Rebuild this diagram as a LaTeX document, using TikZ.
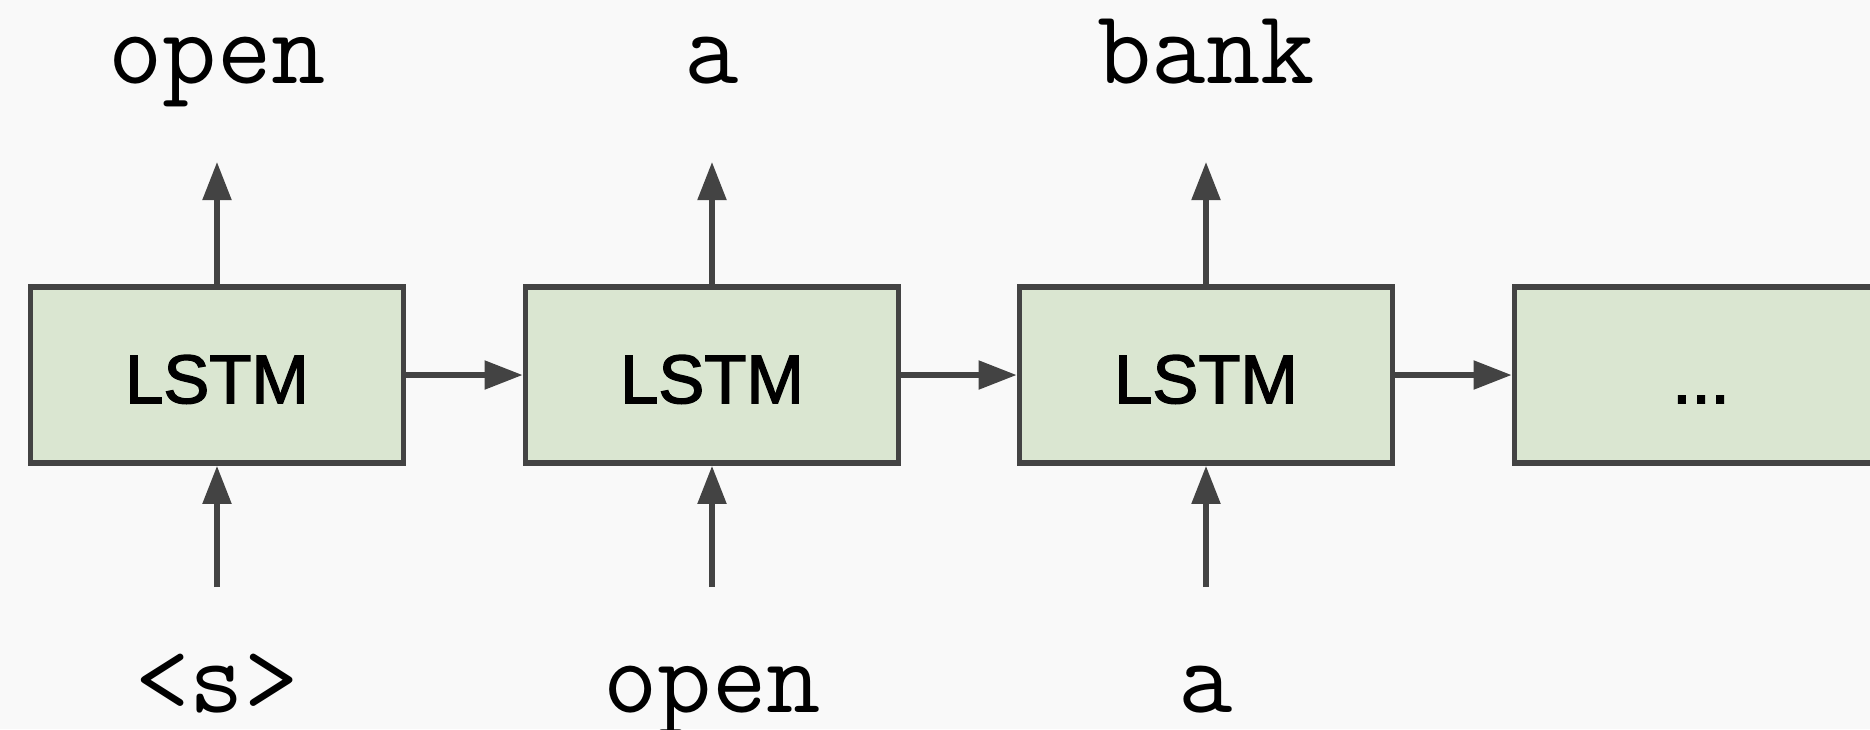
\documentclass[tikz,border=0pt]{standalone}
\usepackage{fontspec}
\setmainfont{Liberation Sans}
\newfontfamily\cellfont[FakeBold=2]{Liberation Sans}
\usetikzlibrary{arrows.meta}
\definecolor{cellgreen}{RGB}{218,230,209}
\definecolor{darkgrey}{RGB}{67,67,67}
\definecolor{paper}{RGB}{249,249,249}

\begin{document}
\begin{tikzpicture}[x=0.01cm,y=-0.01cm,
        cell/.style={draw=darkgrey,fill=cellgreen,line width=1.6pt,minimum width=3.73cm,minimum height=1.76cm,inner sep=0pt,text height=16pt,text depth=0pt,font=\fontsize{19.6}{24}\selectfont\cellfont},
        word/.style={anchor=base,inner sep=0pt,font=\fontsize{30}{36}\selectfont\ttfamily},
        flow/.style={draw=darkgrey,line width=1.5pt,-{Triangle[length=3.8mm,width=2.8mm]}}]
        \fill[paper] (0,0) rectangle (1870,729);
        \useasboundingbox (0,0) rectangle (1870,729);

        % the unrolled cells
        \node[cell] (lstm1) at (217,375) {LSTM};
        \node[cell] (lstm2) at (712,375) {LSTM};
        \node[cell] (lstm3) at (1206,375) {LSTM};
        \node[cell] (more) at (1701,375) {...};

        \draw[flow] (lstm1.east) -- (lstm2.west);
        \draw[flow] (lstm2.east) -- (lstm3.west);
        \draw[flow] (lstm3.east) -- (more.west);

        % outputs
        \node[word] (out1) at (217,83) {open};
        \node[word] (out2) at (712,83) {a};
        \node[word] (out3) at (1206,83) {bank};
        \coordinate (tip1) at (217,162);
        \coordinate (tip2) at (712,162);
        \coordinate (tip3) at (1206,162);
        \draw[flow] (lstm1.north) -- (tip1);
        \draw[flow] (lstm2.north) -- (tip2);
        \draw[flow] (lstm3.north) -- (tip3);

        % inputs
        \node[word] (in1) at (217,712) {<s>};
        \node[word] (in2) at (712,712) {open};
        \node[word] (in3) at (1206,712) {a};
        \coordinate (tail1) at (217,587);
        \coordinate (tail2) at (712,587);
        \coordinate (tail3) at (1206,587);
        \draw[flow] (tail1) -- (lstm1.south);
        \draw[flow] (tail2) -- (lstm2.south);
        \draw[flow] (tail3) -- (lstm3.south);
    \end{tikzpicture}
\end{document}
